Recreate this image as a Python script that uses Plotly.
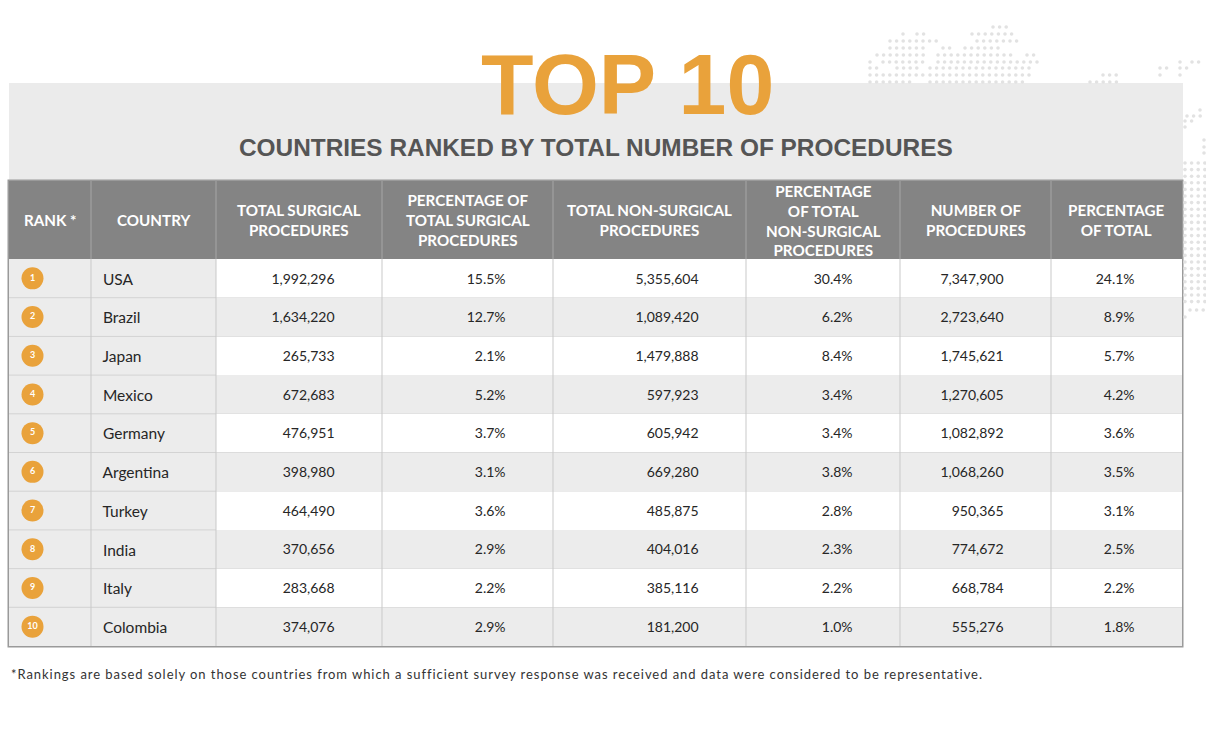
import plotly.graph_objects as go

# ---------------- data ----------------
ranks = [1, 2, 3, 4, 5, 6, 7, 8, 9, 10]
countries = ["USA", "Brazil", "Japan", "Mexico", "Germany", "Argentina",
             "Turkey", "India", "Italy", "Colombia"]
surgical = [1992296, 1634220, 265733, 672683, 476951, 398980, 464490, 370656, 283668, 374076]
surgical_pct = [15.5, 12.7, 2.1, 5.2, 3.7, 3.1, 3.6, 2.9, 2.2, 2.9]
nonsurgical = [5355604, 1089420, 1479888, 597923, 605942, 669280, 485875, 404016, 385116, 181200]
nonsurgical_pct = [30.4, 6.2, 8.4, 3.4, 3.4, 3.8, 2.8, 2.3, 2.2, 1.0]
total = [7347900, 2723640, 1745621, 1270605, 1082892, 1068260, 950365, 774672, 668784, 555276]
total_pct = [24.1, 8.9, 5.7, 4.2, 3.6, 3.5, 3.1, 2.5, 2.2, 1.8]

headers = ["RANK *", "COUNTRY", "TOTAL SURGICAL<br>PROCEDURES",
           "PERCENTAGE OF<br>TOTAL SURGICAL<br>PROCEDURES",
           "TOTAL NON-SURGICAL<br>PROCEDURES",
           "PERCENTAGE<br>OF TOTAL<br>NON-SURGICAL<br>PROCEDURES",
           "NUMBER OF<br>PROCEDURES", "PERCENTAGE<br>OF TOTAL"]

title = "TOP 10"
subtitle = "COUNTRIES RANKED BY TOTAL NUMBER OF PROCEDURES"
footnote = ("*Rankings are based solely on those countries from which a sufficient "
            "survey response was received and data were considered to be representative.")

# ---------------- layout constants ----------------
W, H = 1206, 733
col_edges = [9, 91, 216, 382, 553, 746, 900, 1051, 1182]
table_top, header_h, row_h = 181, 78, 38.7
text_nudge = 6            # plotly table text sits near the cell top; nudge it to centre
ORANGE = "#E9A23B"
LIGHT = "#ececec"
HEAD = "#848484"

n = len(countries)
body_top = table_top + header_h
body_bot = body_top + row_h * n
widths = [col_edges[i + 1] - col_edges[i] for i in range(len(col_edges) - 1)]
pad = "\u00a0" * 11
clear = "rgba(0,0,0,0)"

# table carries the cell text; its geometry is drawn as shapes underneath
table = go.Table(
    domain=dict(x=[col_edges[0] / W, col_edges[-1] / W],
                y=[0, 1 - (table_top + text_nudge) / H]),
    columnwidth=widths,
    header=dict(values=[""] * len(headers), fill_color=clear,
                line=dict(width=0, color=clear), height=header_h),
    cells=dict(
        values=[[""] * n, countries, surgical, surgical_pct, nonsurgical,
                nonsurgical_pct, total, total_pct],
        format=[None, None, ",", ".1f", ",", ".1f", ",", ".1f"],
        prefix=["", "\u00a0", "", "", "", "", "", ""],
        suffix=["", "", pad, "%" + pad, pad, "%" + pad, pad, "%" + pad],
        fill_color=clear,
        line=dict(width=0, color=clear),
        align=["center", "left"] + ["right"] * 6,
        font=dict(family="Lato", size=[14, 15.5, 14, 14, 14, 14, 14, 14], color="#262626"),
        height=row_h,
    ),
)

fig = go.Figure()

# rank circles
row_centers = [body_top + row_h * (i + 0.5) for i in range(n)]
fig.add_trace(go.Scatter(
    x=[32.5] * n, y=row_centers, mode="markers+text",
    marker=dict(size=22, color=ORANGE, line=dict(width=0)),
    text=[f"<b>{r}</b>" for r in ranks], textposition="middle center",
    textfont=dict(family="Lato", size=9, color="white"),
    hoverinfo="skip", showlegend=False,
))

# decorative dotted world-map fragment (top right): rows of (y, x_start, x_end)
dot_rows = [
    (27, 993, 1008),
    (34, 903, 903), (34, 917, 927), (34, 972, 1017),
    (41, 890, 940), (41, 977, 1017),
    (48, 890, 927), (48, 943, 953), (48, 965, 1003),
    (55, 877, 927), (55, 938, 1017), (55, 1027, 1037),
    (62, 870, 870), (62, 883, 927), (62, 938, 1037), (62, 1180, 1180), (62, 1192, 1202),
    (68, 870, 877), (68, 897, 920), (68, 930, 1030), (68, 1160, 1167), (68, 1180, 1193),
    (75, 870, 927), (75, 930, 1030), (75, 1103, 1120), (75, 1160, 1160), (75, 1180, 1180),
    (82, 870, 913), (82, 930, 1023), (82, 1090, 1120),
    (110, 1200, 1206), (116, 1187, 1206), (121, 1185, 1198), (127, 1185, 1185),
    (140, 1204, 1206), (147, 1204, 1206), (153, 1204, 1206),
]
y = 163
while y <= 303:
    dot_rows.append((y, 1185, 1206))
    y += 6.6
dot_rows += [(310, 1190, 1206), (317, 1185, 1185)]
dx, dy = [], []
for yy, x0, x1 in dot_rows:
    xx = x0
    while xx <= x1 + 0.1:
        dx.append(xx)
        dy.append(yy)
        xx += 6.6
fig.add_trace(go.Scatter(x=dx, y=dy, mode="markers",
                         marker=dict(size=3.6, color="#e2e2e2"),
                         hoverinfo="skip", showlegend=False))

fig.add_trace(table)


def rect(x0, x1, y0, y1, color):
    return dict(type="rect", xref="x", yref="y", x0=x0, x1=x1, y0=y0, y1=y1,
                fillcolor=color, line=dict(width=0), layer="below")


def seg(x0, x1, y0, y1, color, w=1):
    return dict(type="line", xref="x", yref="y", x0=x0, x1=x1, y0=y0, y1=y1,
                line=dict(color=color, width=w), layer="below")


shapes = [
    rect(9, 1183, 83, table_top, "#ebebeb"),                                   # title band
    rect(col_edges[0] - 1.5, col_edges[-1] + 1.5, table_top - 1.5, body_bot + 1.5, "#9a9a9a"),
    rect(col_edges[0], col_edges[-1], table_top, body_top, HEAD),              # header
    rect(col_edges[0], col_edges[2], body_top, body_bot, LIGHT),               # rank/country
]
for i in range(n):
    y0 = body_top + row_h * i
    shapes.append(rect(col_edges[2], col_edges[-1], y0, y0 + row_h,
                       "white" if i % 2 == 0 else LIGHT))
for i in range(1, n):
    yl = body_top + row_h * i
    shapes.append(seg(col_edges[0], col_edges[2], yl, yl, "#d3d3d3"))
for xe in col_edges[1:-1]:
    shapes.append(seg(xe, xe, table_top, body_top, "#a6a6a6"))
    shapes.append(seg(xe, xe, body_top, body_bot, "#c9c9c9"))

annotations = [
    dict(text=f"<b>{title}</b>", x=627, y=84, xref="x", yref="y", showarrow=False,
         font=dict(family="Liberation Sans", size=86, color=ORANGE),
         xanchor="center", yanchor="middle"),
    dict(text=f"<b>{subtitle}</b>", x=596, y=147, xref="x", yref="y", showarrow=False,
         font=dict(family="Liberation Sans", size=24.4, color="#555555"),
         xanchor="center", yanchor="middle"),
    dict(text=f'<span style="letter-spacing:0.94px">{footnote}</span>', x=9, y=674,
         xref="x", yref="y", showarrow=False,
         font=dict(family="Lato", size=13, color="#333333"),
         xanchor="left", yanchor="middle"),
]
# header labels, centred line by line
for i, h in enumerate(headers):
    annotations.append(dict(
        text=f"<b>{h}</b>", x=(col_edges[i] + col_edges[i + 1]) / 2,
        y=table_top + header_h / 2, xref="x", yref="y", showarrow=False,
        align="center", xanchor="center", yanchor="middle",
        font=dict(family="Lato", size=15.2, color="white"),
    ))

fig.update_layout(
    width=W, height=H,
    margin=dict(l=0, r=0, t=0, b=0),
    paper_bgcolor="white", plot_bgcolor="white",
    xaxis=dict(range=[0, W], visible=False, fixedrange=True),
    yaxis=dict(range=[H, 0], visible=False, fixedrange=True),
    shapes=shapes, annotations=annotations,
)

fig.write_html("out.html", config={"displayModeBar": False},
               post_script="document.body.style.margin='0px';")
